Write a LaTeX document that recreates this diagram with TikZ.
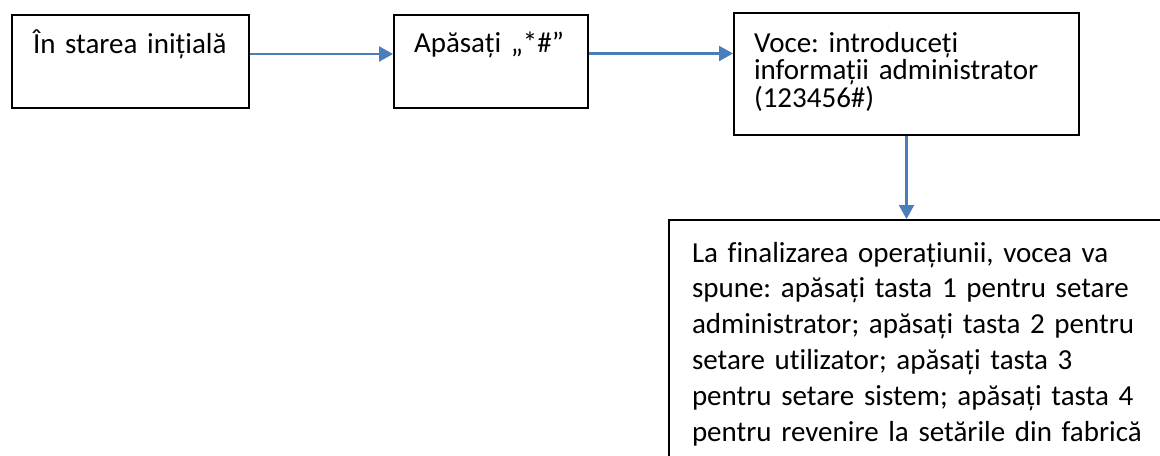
\documentclass[tikz,border=0pt]{standalone}
\usepackage{fontspec}
\setmainfont{Carlito}[Ligatures=NoCommon]
\usepackage{tikz}
\usetikzlibrary{arrows.meta}
\definecolor{linkblue}{HTML}{4A7EBB}
\tikzset{box/.style={draw,line width=0.4mm,anchor=north west,align=left,inner xsep=4mm,inner ysep=4mm,text height=3.6mm,font=\fontsize{16.5}{15.9}\selectfont\frenchspacing},link/.style={color=linkblue,line width=0.45mm,-{Triangle[length=2.8mm,width=3mm]}}}

\begin{document}
\begin{tikzpicture}[x=0.2mm,y=-0.2mm]
\clip (0,0) rectangle (1160,455);
\node[box,text width=38.8mm,text depth=7mm,inner xsep=4.3mm] (start) at (10.5,14) {În starea inițială};
\node[box,text width=30.8mm,text depth=7mm] (press) at (393,13.5) {Apăsați „*\#”};
\node[box,text width=61mm,text depth=12.8mm,text height=4mm,inner ysep=3.8mm] (voice) at (733,12) {Voce: introduceți\\informații administrator\\(123456\#)};
\node[box,text width=94mm,text depth=60mm,inner xsep=4.6mm,inner ysep=4.4mm,text height=4mm,font=\fontsize{16.5}{20.4}\selectfont\frenchspacing] (menu) at (668,219) {La finalizarea operațiunii, vocea va\\spune: apăsați tasta 1 pentru setare\\administrator; apăsați tasta 2 pentru\\setare utilizator; apăsați tasta 3\\pentru setare sistem; apăsați tasta 4\\pentru revenire la setările din fabrică};
\draw[link] ([yshift=1.5mm]start.east) -- ([yshift=1.5mm]start.east -| press.west);
\draw[link] ([yshift=1.5mm]press.east) -- ([yshift=1.5mm]press.east -| voice.west);
\draw[link] (voice.south) -- (voice.south |- menu.north);
%\draw[link] (voice.south) -- (menu.north);
\end{tikzpicture}
\end{document}
